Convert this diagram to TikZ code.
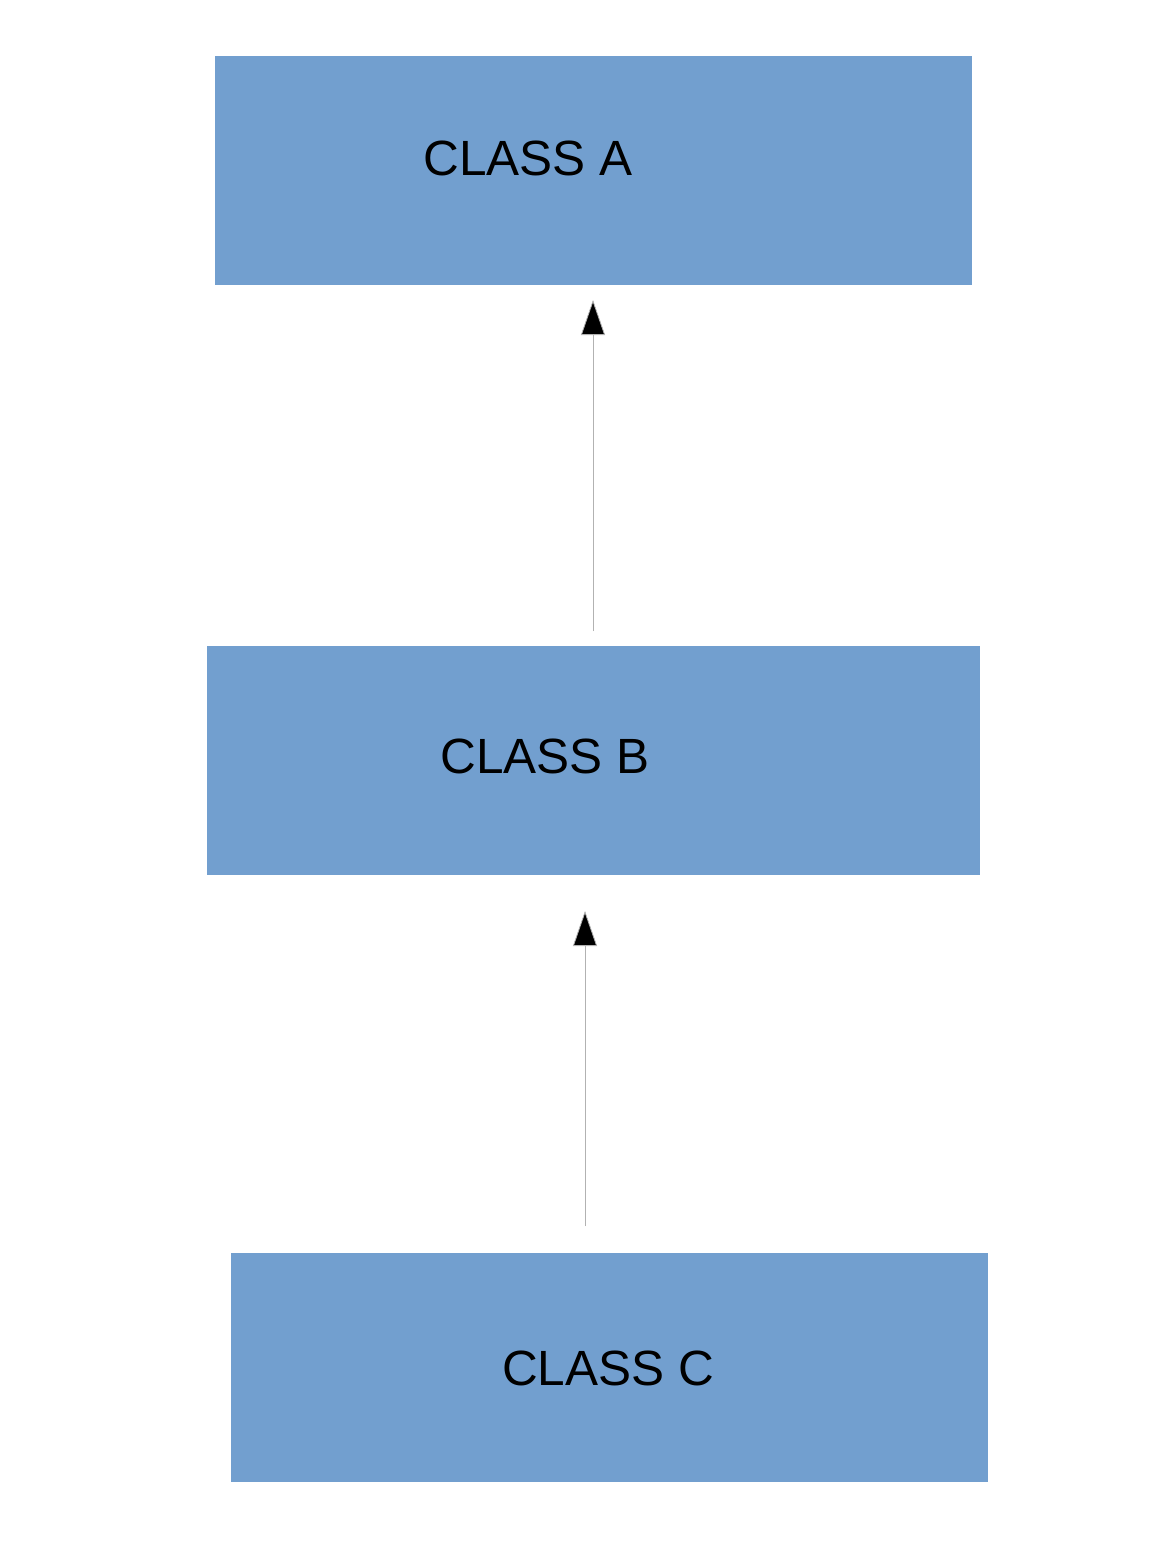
\documentclass[tikz,border=0pt]{standalone}
\usepackage{fontspec}
\setmainfont{Liberation Sans}
\usetikzlibrary{arrows.meta}
\definecolor{boxblue}{HTML}{729FCF}
\begin{document}
\begin{tikzpicture}[x=1pt,y=-1pt,
  classbox/.style={fill=boxblue,draw=none,inner sep=0pt,anchor=north west},
  classtext/.style={font=\fontsize{49.5}{54}\selectfont,inner sep=0pt,text=black},
  inherit/.style={draw=black!30,line width=0.8pt,-{Triangle[length=35pt,width=24pt,fill=black]}}]
\useasboundingbox[fill=white] (0,0) rectangle (1157,1551);
\node[classbox,minimum width=757pt,minimum height=229pt] (A) at (215,56) {};
\node[classbox,minimum width=773pt,minimum height=229pt] (B) at (207,646) {};
\node[classbox,minimum width=757pt,minimum height=229pt] (C) at (231,1253) {};
\node[classtext] (tA) at (528,158) {CLASS A};
\node[classtext] (tB) at (545,756) {CLASS B};
\node[classtext] (tC) at (608,1368) {CLASS C};
\coordinate (a1s) at (593,631);
\coordinate (a1e) at (593,300);
\coordinate (a2s) at (585,1226);
\coordinate (a2e) at (585,911);
\draw[inherit] (a1s) -- (a1e);
\draw[inherit] (a2s) -- (a2e);
\end{tikzpicture}
\end{document}
